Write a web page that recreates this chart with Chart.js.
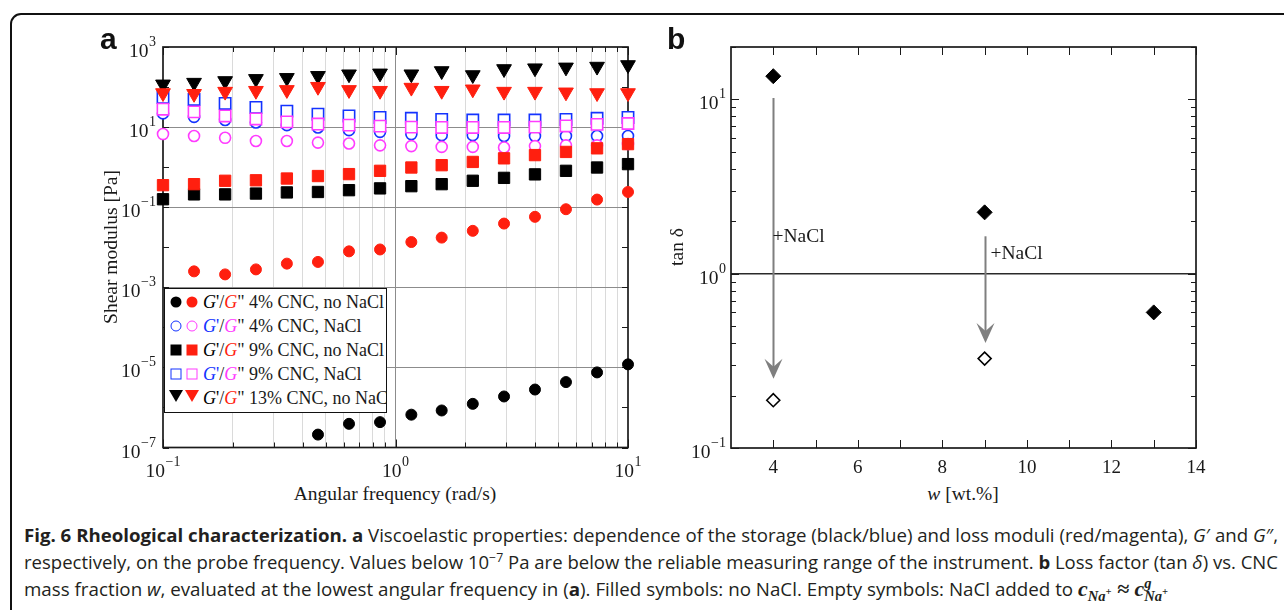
<!DOCTYPE html>
<html>
<head>
<meta charset="utf-8">
<title>Rheological characterization</title>
<script src="https://cdn.jsdelivr.net/npm/chart.js"></script>
<style>
  body { margin: 0; width: 1284px; height: 610px; overflow: hidden; position: relative; background: #fff;
         font-family: 'Liberation Serif', serif; color: #1a1a1a; }
  .frame { position: absolute; left: 10px; top: 13px; width: 1300px; height: 640px;
           border: 2px solid #111; border-radius: 11px; }
  canvas { position: absolute; top: 0; }
  .lab { position: absolute; white-space: nowrap; font-size: 19.5px; transform: translate(-50%, -50%); }
  .rot { transform: translate(-50%, -50%) rotate(-90deg); }
  .panel { position: absolute; font-family: 'Liberation Sans', Arial, sans-serif; font-weight: bold;
           font-size: 30px; line-height: 30px; color: #111; }
  #legend { position: absolute; left: 164px; top: 288px; width: 223px; height: 125px; box-sizing: border-box;
            border: 1.5px solid #111; background: #fff; overflow: hidden; z-index: 2; }
  .row { position: absolute; left: 0; height: 24px; width: 300px; }
  .mk { position: absolute; transform: translate(-50%, -50%); box-sizing: content-box; }
  .rowtxt { position: absolute; left: 38px; top: 0; line-height: 24px; font-size: 18px; white-space: nowrap; }
  .cap { position: absolute; left: 24px; white-space: nowrap; font-family: 'Open Sans', sans-serif;
         font-size: 18px; line-height: 27px; height: 27px; color: #231f20; transform-origin: 0 50%; }
  .cap b { font-weight: 700; }
  .cap sup, .cap sub { line-height: 0; }
  .m { font-family: 'Liberation Serif', serif; font-style: italic; font-weight: bold; font-size: 21px; }
</style>
</head>
<body>
<div class="frame"></div>

<canvas id="chartA" width="650" height="480" style="left:0"></canvas>
<canvas id="chartB" width="634" height="480" style="left:650px"></canvas>

<div class="panel" style="left:100px; top:24px;">a</div>
<div class="panel" style="left:667px; top:24px;">b</div>

<div class="lab rot" style="left:111px; top:247px;">Shear modulus [Pa]</div>
<div class="lab" style="left:395px; top:494px;">Angular frequency (rad/s)</div>
<div class="lab rot" style="left:677px; top:247px;">tan δ</div>
<div class="lab" style="left:963px; top:494px;"><i>w</i> [wt.%]</div>

<div id="legend"></div>

<div class="cap" style="top:522px;"><b>Fig. 6 Rheological characterization. a</b> Viscoelastic properties: dependence of the storage (black/blue) and loss moduli (red/magenta), <i>G</i>′ and <i>G</i>″,</div>
<div class="cap" style="top:549px;">respectively, on the probe frequency. Values below 10<sup style="font-size:12px">−7</sup> Pa are below the reliable measuring range of the instrument. <b>b</b> Loss factor (tan <i>δ</i>) vs. CNC</div>
<div class="cap" style="top:576px;">mass fraction <i>w</i>, evaluated at the lowest angular frequency in (<b>a</b>). Filled symbols: no NaCl. Empty symbols: NaCl added to <span class="m">c<sub style="font-size:14px">Na<sup style="font-size:10px">+</sup></sub> ≈ c<sup style="font-size:14px">g</sup><sub style="font-size:14px; margin-left:-7px">Na<sup style="font-size:10px">+</sup></sub></span></div>

<script>
// ---- panel a : shear modulus vs angular frequency ----
const freq = [0.1, 0.136, 0.185, 0.251, 0.341, 0.464, 0.631, 0.858, 1.17, 1.58, 2.15, 2.93, 3.98, 5.41, 7.36, 10];

// G' / G'' 4% CNC, no NaCl
const gp4 = [null, null, null, null, null, 2.1e-7, 3.9e-7, 4.3e-7, 6.6e-7, 8.4e-7, 1.23e-6, 1.88e-6, 2.8e-6, 4.3e-6, 7.5e-6, 1.19e-5];
const gpp4 = [null, 0.0025, 0.0021, 0.0028, 0.0039, 0.0043, 0.0079, 0.0088, 0.0135, 0.0174, 0.0257, 0.039, 0.0575, 0.089, 0.155, 0.24];
// G' / G'' 4% CNC, NaCl
const gp4n = [22, 18, 15, 13, 11.2, 9.8, 8.4, 7.6, 6.7, 6.3, 6.3, 6.0, 6.0, 6.0, 6.0, 6.0];
const gpp4n = [6.7, 6.0, 5.4, 4.5, 4.5, 4.1, 3.9, 3.5, 3.35, 3.2, 3.2, 3.1, 3.35, 3.5, 3.5, 3.8];
// G' / G'' 9% CNC, no NaCl
const gp9 = [0.158, 0.209, 0.209, 0.219, 0.234, 0.24, 0.266, 0.295, 0.335, 0.376, 0.457, 0.54, 0.66, 0.81, 0.98, 1.19];
const gpp9 = [0.355, 0.376, 0.457, 0.47, 0.52, 0.6, 0.67, 0.81, 0.98, 1.12, 1.35, 1.66, 2.0, 2.4, 2.95, 3.76];
// G' / G'' 9% CNC, NaCl
const gp9n = [55, 49, 39, 31, 25, 21, 19, 17.4, 16.6, 15.5, 15, 15, 15, 15.5, 16.6, 17.4];
const gpp9n = [28, 24, 19, 16, 13.5, 11.9, 11.2, 10.6, 10, 9.8, 9.8, 9.8, 10, 10.7, 11.7, 12.3];
// G' / G'' 13% CNC, no NaCl
const gp13 = [117, 129, 142, 160, 170, 191, 209, 220, 209, 252, 200, 283, 296, 310, 325, 356];
const gpp13 = [71, 68, 77, 81, 85, 102, 85, 81, 97, 81, 88, 77, 77, 74, 71, 71];

const legendNames = ['4% CNC, no NaCl', '4% CNC, NaCl', '9% CNC, no NaCl', '9% CNC, NaCl', '13% CNC, no NaCl'];
const xTicksA = [0.1, 0.2, 0.3, 0.4, 0.5, 0.6, 0.7, 0.8, 0.9, 1, 2, 3, 4, 5, 6, 7, 8, 9, 10];
const yTicksA = [1e-7, 1e-6, 1e-5, 1e-4, 1e-3, 1e-2, 1e-1, 1, 10, 100, 1000];
const xLabelsA = [0.1, 1, 10];
const yLabelsA = [1e-7, 1e-5, 1e-3, 1e-1, 10, 1000];

// ---- panel b : loss factor vs CNC mass fraction ----
const wFilled = [4, 9, 13];
const tanFilled = [13.6, 2.25, 0.60];
const wOpen = [4, 9];
const tanOpen = [0.188, 0.326];
const arrowW = [4, 9];
const arrowFrom = [10.2, 1.64];
const arrowTo = [0.25, 0.40];
const noteY = [1.62, 1.30];
const xTicksB = [4, 5, 6, 7, 8, 9, 10, 11, 12, 13, 14];
const yTicksB = [0.1, 0.2, 0.3, 0.4, 0.5, 0.6, 0.7, 0.8, 0.9, 1, 2, 3, 4, 5, 6, 7, 8, 9, 10, 20];
const xLabelsB = [4, 6, 8, 10, 12, 14];
const yLabelsB = [0.1, 1, 10];

const BLACK = '#000000', RED = '#ff1f0f', BLUE = '#1433ff', MAG = '#ff3cff';
const SERIF = '"Liberation Serif"';
const INK = '#1a1a1a';

const isDecade = v => Math.abs(Math.log10(v) - Math.round(Math.log10(v))) < 1e-6;

function pts(xs, ys) {
  const out = [];
  ys.forEach((y, i) => { if (y !== null) out.push({x: xs[i], y: y}); });
  return out;
}

// "10" with a raised exponent, as the reference tick labels
function drawPow(ctx, v, x, yBase, align) {
  const base = '10';
  const ex = String(Math.round(Math.log10(v))).replace('-', '−');
  ctx.font = '19.5px ' + SERIF;
  const wb = ctx.measureText(base).width;
  ctx.font = '14px ' + SERIF;
  const we = ctx.measureText(ex).width;
  const total = wb + we + 0.5;
  const x0 = align === 'right' ? x - total : x - total / 2;
  ctx.font = '19.5px ' + SERIF;
  ctx.fillText(base, x0, yBase);
  ctx.font = '14px ' + SERIF;
  ctx.fillText(ex, x0 + wb + 0.5, yBase - 11);
}

// inward ticks on all four sides, box frame and tick labels
function frameTicks(cfg) {
  return {
    id: 'frameTicks',
    beforeDatasetsDraw(chart) {
      const {ctx, chartArea: a, scales} = chart;
      ctx.save();
      ctx.strokeStyle = INK;
      ctx.lineWidth = 1;
      ctx.beginPath();
      scales.x.ticks.forEach(t => {
        const p = Math.round(scales.x.getPixelForValue(t.value)) + 0.5;
        const l = cfg.xLen(t.value);
        ctx.moveTo(p, a.bottom); ctx.lineTo(p, a.bottom - l);
        ctx.moveTo(p, a.top); ctx.lineTo(p, a.top + l);
      });
      scales.y.ticks.forEach(t => {
        const p = Math.round(scales.y.getPixelForValue(t.value)) + 0.5;
        const l = cfg.yLen(t.value);
        ctx.moveTo(a.left, p); ctx.lineTo(a.left + l, p);
        ctx.moveTo(a.right, p); ctx.lineTo(a.right - l, p);
      });
      ctx.stroke();
      ctx.lineWidth = 1.7;
      ctx.strokeRect(a.left, a.top, a.right - a.left, a.bottom - a.top);

      ctx.fillStyle = INK;
      ctx.textAlign = 'left';
      ctx.textBaseline = 'alphabetic';
      cfg.yLabels.forEach(v => {
        drawPow(ctx, v, a.left - cfg.yGap, scales.y.getPixelForValue(v) + 10, 'right');
      });
      cfg.xLabels.forEach(v => {
        const px = scales.x.getPixelForValue(v);
        if (cfg.xPow) {
          drawPow(ctx, v, px, a.bottom + 29.5, 'center');
        } else {
          ctx.font = '19px ' + SERIF;
          ctx.textAlign = 'center';
          ctx.fillText(String(v), px, a.bottom + 24.5);
          ctx.textAlign = 'left';
        }
      });
      ctx.restore();
    }
  };
}

function marker(vals, style, color, filled, order) {
  const r = {circle: 5.5, rect: 8, triangle: 8.5}[style];
  return {
    data: pts(freq, vals),
    pointStyle: style,
    pointRotation: style === 'triangle' ? 180 : 0,
    pointRadius: r,
    pointBackgroundColor: filled ? color : '#ffffff',
    pointBorderColor: color,
    pointBorderWidth: filled ? 1 : 1.6,
    showLine: false,
    clip: false,
    order: order
  };
}

// ---------- chart a ----------
new Chart(document.getElementById('chartA'), {
  type: 'scatter',
  data: {
    datasets: [
      marker(gp4, 'circle', BLACK, true, 20),
      marker(gpp4, 'circle', RED, true, 19),
      marker(gp4n, 'circle', BLUE, false, 18),
      marker(gpp4n, 'circle', MAG, false, 17),
      marker(gp9, 'rect', BLACK, true, 16),
      marker(gpp9, 'rect', RED, true, 15),
      marker(gp9n, 'rect', BLUE, false, 14),
      marker(gpp9n, 'rect', MAG, false, 13),
      marker(gp13, 'triangle', BLACK, true, 12),
      marker(gpp13, 'triangle', RED, true, 11)
    ]
  },
  options: {
    responsive: false,
    animation: false,
    layout: { padding: { left: 0, right: 22, top: 47, bottom: 0 } },
    plugins: { legend: { display: false }, tooltip: { enabled: false } },
    scales: {
      x: {
        type: 'logarithmic', min: 0.1, max: 10,
        afterBuildTicks: s => { s.ticks = xTicksA.map(v => ({ value: v })); },
        afterFit: s => { s.height = 32.5; s.paddingLeft = 0; s.paddingRight = 0; },
        ticks: { display: false, autoSkip: false },
        grid: {
          drawTicks: false, lineWidth: 1,
          color: c => {
            const v = c.tick ? c.tick.value : 0;
            if (v === 0.1 || v === 10) return 'rgba(0,0,0,0)';
            return isDecade(v) ? '#8c8c8c' : '#dadada';
          }
        },
        border: { display: false }
      },
      y: {
        type: 'logarithmic', min: 1e-7, max: 1e3,
        afterBuildTicks: s => { s.ticks = yTicksA.map(v => ({ value: v })); },
        afterFit: s => { s.width = 163; s.paddingTop = 0; s.paddingBottom = 0; },
        ticks: { display: false, autoSkip: false },
        grid: {
          drawTicks: false, lineWidth: 1,
          color: c => {
            const v = c.tick ? c.tick.value : 0;
            const e = Math.round(Math.log10(v));
            return (Math.abs(e) % 2 === 1 && e !== 3 && e !== -7) ? '#8c8c8c' : 'rgba(0,0,0,0)';
          }
        },
        border: { display: false }
      }
    }
  },
  plugins: [frameTicks({
    xLen: v => isDecade(v) ? 8 : 5, yLen: v => 6,
    xLabels: xLabelsA, yLabels: yLabelsA, xPow: true, yGap: 7
  })]
});

// ---------- chart b ----------
const arrows = {
  id: 'arrows',
  afterDatasetsDraw(chart) {
    const {ctx, scales: {x, y}} = chart;
    const dx = [-1, 5];
    ctx.save();
    arrowW.forEach((w, i) => {
      const px = Math.round(x.getPixelForValue(w)) + 0.5;
      const y0 = y.getPixelForValue(arrowFrom[i]);
      const y1 = y.getPixelForValue(arrowTo[i]);
      ctx.strokeStyle = '#7f7f7f';
      ctx.fillStyle = '#7f7f7f';
      ctx.lineWidth = 2;
      ctx.beginPath(); ctx.moveTo(px, y0); ctx.lineTo(px, y1 - 10); ctx.stroke();
      ctx.beginPath();
      ctx.moveTo(px, y1); ctx.lineTo(px - 9, y1 - 20); ctx.lineTo(px, y1 - 12); ctx.lineTo(px + 9, y1 - 20);
      ctx.closePath(); ctx.fill();
      ctx.fillStyle = INK;
      ctx.font = '19.5px ' + SERIF;
      ctx.textAlign = 'left';
      ctx.textBaseline = 'middle';
      ctx.fillText('+NaCl', px + dx[i], y.getPixelForValue(noteY[i]));
    });
    ctx.restore();
  }
};

new Chart(document.getElementById('chartB'), {
  type: 'scatter',
  data: {
    datasets: [
      {
        data: pts(wFilled, tanFilled), pointStyle: 'rectRot', pointRadius: 7.5,
        pointBackgroundColor: BLACK, pointBorderColor: BLACK, pointBorderWidth: 1, clip: false
      },
      {
        data: pts(wOpen, tanOpen), pointStyle: 'rectRot', pointRadius: 6.5,
        pointBackgroundColor: '#fff', pointBorderColor: BLACK, pointBorderWidth: 1.6, clip: false
      }
    ]
  },
  options: {
    responsive: false,
    animation: false,
    layout: { padding: { left: 0, right: 88, top: 47, bottom: 0 } },
    plugins: { legend: { display: false }, tooltip: { enabled: false } },
    scales: {
      x: {
        type: 'linear', min: 3, max: 14,
        afterBuildTicks: s => { s.ticks = xTicksB.map(v => ({ value: v })); },
        afterFit: s => { s.height = 32; s.paddingLeft = 0; s.paddingRight = 0; },
        ticks: { display: false, autoSkip: false },
        grid: { display: false },
        border: { display: false }
      },
      y: {
        type: 'logarithmic', min: 0.1, max: 20,
        afterBuildTicks: s => { s.ticks = yTicksB.map(v => ({ value: v })); },
        afterFit: s => { s.width = 81; s.paddingTop = 0; s.paddingBottom = 0; },
        ticks: { display: false, autoSkip: false },
        grid: {
          drawTicks: false, lineWidth: 1.6,
          color: c => (c.tick && c.tick.value === 1) ? '#2a2a2a' : 'rgba(0,0,0,0)'
        },
        border: { display: false }
      }
    }
  },
  plugins: [frameTicks({
    xLen: v => 8, yLen: v => isDecade(v) ? 8 : 5,
    xLabels: xLabelsB, yLabels: yLabelsB, xPow: false, yGap: 5
  }), arrows]
});

// ---------- legend for panel a ----------
const legColors = [[BLACK, RED], [BLUE, MAG], [BLACK, RED], [BLUE, MAG], [BLACK, RED]];
const legShapes = ['circle', 'ocircle', 'square', 'osquare', 'tri'];
function mkHtml(shape, color, cx) {
  const base = `left:${cx}px; top:12px;`;
  if (shape === 'circle') return `<span class="mk" style="${base} width:11px; height:11px; border-radius:50%; background:${color}"></span>`;
  if (shape === 'ocircle') return `<span class="mk" style="${base} width:9px; height:9px; border-radius:50%; border:1.6px solid ${color}"></span>`;
  if (shape === 'square') return `<span class="mk" style="${base} width:11px; height:11px; background:${color}"></span>`;
  if (shape === 'osquare') return `<span class="mk" style="${base} width:9px; height:9px; border:1.6px solid ${color}"></span>`;
  return `<span class="mk" style="left:${cx}px; top:10px; width:0; height:0; border-left:7.5px solid transparent; border-right:7.5px solid transparent; border-top:12px solid ${color}"></span>`;
}
const leg = document.getElementById('legend');
legendNames.forEach((name, i) => {
  const [c1, c2] = legColors[i];
  const row = document.createElement('div');
  row.className = 'row';
  row.style.top = (1 + i * 24) + 'px';
  row.innerHTML = mkHtml(legShapes[i], c1, 11) + mkHtml(legShapes[i], c2, 27) +
    `<span class="rowtxt"><i style="color:${c1}">G</i><span style="color:${c1}">'</span>/<i style="color:${c2}">G</i>" ${name}</span>`;
  leg.appendChild(row);
});

// ---------- fit caption lines to the reference widths ----------
const capWidths = [1254, 1254, 1144];
function fitCaption() {
  document.querySelectorAll('.cap').forEach((el, i) => {
    el.style.transform = 'none';
    const w = el.getBoundingClientRect().width;
    el.style.transform = `scaleX(${capWidths[i] / w})`;
  });
}
fitCaption();
if (document.fonts && document.fonts.ready) document.fonts.ready.then(fitCaption);
</script>
</body>
</html>
